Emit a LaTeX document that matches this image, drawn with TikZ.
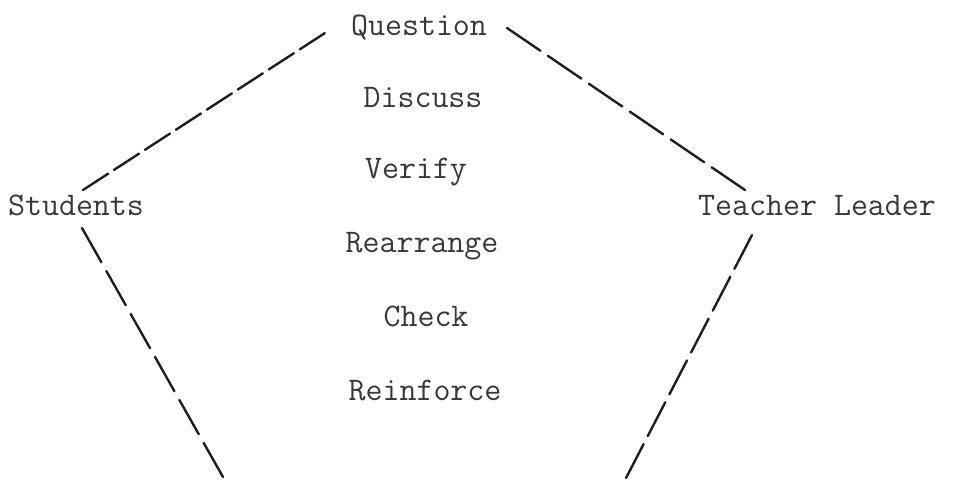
\documentclass[tikz,border=0pt]{standalone}
\usepackage{tikz}
\begin{document}
\begin{tikzpicture}[x=1pt,y=-1pt,
  label/.style={anchor=base,inner sep=0pt,text=black!78,
    font=\ttfamily\fontsize{33}{40}\selectfont},
  link/.style={line width=2.4pt,draw=black!88,line cap=round},
  % dash lengths chosen so every side starts and ends on a dash
  dashTL/.style={link,dash pattern=on 29.9pt off 7pt},
  dashTR/.style={link,dash pattern=on 40.5pt off 9pt},
  dashBL/.style={link,dash pattern=on 39.4pt off 10pt},
  dashBR/.style={link,dash pattern=on 38.1pt off 9pt}]
  \useasboundingbox (0,0) rectangle (963,483);

  % vertex labels
  \node[label] (question) at (419,35)  {Question};
  \node[label] (students) at (76,215)  {Students};
  \node[label] (teacher)  at (817,215) {Teacher Leader};

  % the steps down the middle
  \node[label] (discuss)   at (423,107) {Discuss};
  \node[label] (verify)    at (416,178) {Verify};
  \node[label] (rearrange) at (422,252) {Rearrange};
  \node[label] (check)     at (426,326) {Check};
  \node[label] (reinforce) at (425,400) {Reinforce};

  % ends of the dashed sides
  \coordinate (qL) at (325,33);
  \coordinate (qR) at (507,28);
  \coordinate (sU) at (83,190);
  \coordinate (sD) at (82,228);
  \coordinate (tU) at (745,190);
  \coordinate (tD) at (752,235);
  \coordinate (baseL) at (223,477);
  \coordinate (baseR) at (626,478);

  \draw[dashTL] (sU) -- (qL);
  \draw[dashTR] (qR) -- (tU);
  \draw[dashBL] (sD) -- (baseL);
  \draw[dashBR] (tD) -- (baseR);
\end{tikzpicture}
\end{document}
